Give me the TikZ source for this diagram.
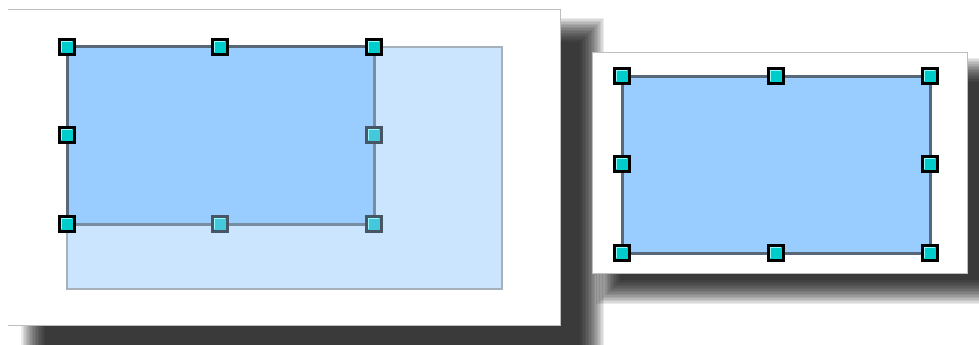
\documentclass[tikz,border=0pt]{standalone}
\usetikzlibrary{calc}
\definecolor{selblue}{RGB}{153,204,255}
\definecolor{ghostblue}{RGB}{204,229,255}
\definecolor{ghostedge}{RGB}{168,176,186}
\definecolor{rectedge}{RGB}{88,104,120}
\definecolor{rectedgelt}{RGB}{120,142,160}
\definecolor{handlecyan}{RGB}{0,204,204}
\definecolor{handlecyanlt}{RGB}{70,200,220}
\definecolor{handlehi}{RGB}{150,250,250}
\definecolor{handleedgelt}{RGB}{70,86,100}
\definecolor{pageedge}{RGB}{190,190,190}
\newcommand\softshadow[4]{%
  \foreach \i in {-12,-10.5,...,12.1} {
    \fill[black,opacity=0.08] ({#1-\i},{#2-\i}) rectangle ({#3+\i},{#4+\i});
  }%
}
\tikzset{
  pagebox/.style={fill=white,draw=pageedge,line width=1pt},
  selrect/.style={fill=selblue,draw=rectedge,line width=3pt},
  ghostrect/.style={fill=ghostblue,draw=ghostedge,line width=2.5pt},
  handle/.style={draw=black,fill=handlecyan,line width=2.6pt,minimum size=14.5pt,inner sep=0pt,
    path picture={\draw[handlehi,line width=1.2pt]
      ([xshift=1.9pt,yshift=1.9pt]path picture bounding box.south west) --
      ([xshift=1.9pt,yshift=-1.9pt]path picture bounding box.north west) --
      ([xshift=-1.9pt,yshift=-1.9pt]path picture bounding box.north east);}},
  handlelt/.style={handle,draw=handleedgelt,fill=handlecyanlt}
}
\begin{document}
\begin{tikzpicture}[x=1pt,y=-1pt]
\useasboundingbox (0,0) rectangle (979,345);
\clip (0,0) rectangle (979,345);
\fill[white] (0,0) rectangle (979,345);
% left page shadow and page
\softshadow{33}{30}{592}{362}
\fill[white] (8,10) rectangle (560,325);
\draw[pageedge,line width=1pt] (8,10) -- (560,10) -- (560,325) -- (8,325);
% ghost (preview) rectangle
\path[ghostrect] (67,47) rectangle (502,289);
% selected rectangle
\fill[selblue] (67,47) rectangle (374,224);
\draw[rectedgelt,line width=3pt] (374,47) -- (374,224) -- (67,224);
\draw[rectedge,line width=3pt] (67,224) -- (67,47) -- (374,47);
\node[handle] (l1) at (67,47) {};
\node[handle] (l2) at (220,47) {};
\node[handle] (l3) at (374,47) {};
\node[handle] (l4) at (67,135) {};
\node[handlelt] (l5) at (374,135) {};
\node[handle] (l6) at (67,224) {};
\node[handlelt] (l7) at (220,224) {};
\node[handlelt] (l8) at (374,224) {};
% right page shadow and page
\softshadow{608}{70}{992}{292}
\path[pagebox] (592,53) rectangle (967,273);
\path[selrect] (622,76) rectangle (930,253);
\node[handle] (r1) at (622,76) {};
\node[handle] (r2) at (776,76) {};
\node[handle] (r3) at (930,76) {};
\node[handle] (r4) at (622,164) {};
\node[handle] (r5) at (930,164) {};
\node[handle] (r6) at (622,253) {};
\node[handle] (r7) at (776,253) {};
\node[handle] (r8) at (930,253) {};
\end{tikzpicture}
\end{document}
